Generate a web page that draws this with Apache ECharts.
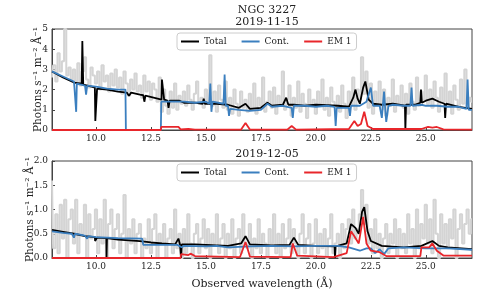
<!DOCTYPE html>
<html><head><meta charset="utf-8">
<script src="https://cdn.jsdelivr.net/npm/echarts@6/dist/echarts.min.js"></script>
<style>html,body{margin:0;padding:0;background:#fff}#c{width:479px;height:291px}</style>
</head><body><div id="c"></div>
<script>
// ---------- data ----------
const grayStart = 8.0, grayStep = 0.1;
const grayTop = [
2.6,3.2,2.4,3.8,2.9,3.4,5.0,2.7,3.1,2.5,
3.0,2.4,3.3,2.2,2.9,3.6,2.5,2.1,3.1,2.7,
2.3,2.9,2.0,3.2,2.4,2.7,1.9,2.8,2.2,3.0,
2.1,2.6,1.8,2.9,2.3,1.7,2.5,2.0,2.8,1.9,
2.2,1.6,2.7,1.9,2.4,1.5,2.3,2.0,1.4,2.6,
0.9,2.0,1.2,0.8,1.9,1.1,2.3,1.0,1.7,1.3,
1.9,1.2,2.2,1.5,1.0,1.8,2.4,1.3,1.6,1.1,
2.0,1.4,3.7,1.2,1.9,0.9,2.2,1.5,1.1,2.4,
1.0,1.6,0.8,2.0,1.3,0.7,1.9,1.1,1.5,0.9,
1.8,1.0,2.3,0.8,1.6,1.2,2.6,0.9,1.4,1.9,
1.1,2.1,0.8,1.7,1.3,2.9,1.0,1.5,2.2,0.7,
1.6,1.1,2.4,0.9,1.8,1.3,0.6,2.0,1.2,1.5,
0.8,1.9,1.3,2.5,1.0,1.6,0.7,2.1,1.4,1.1,
1.7,0.9,2.2,1.3,0.6,1.9,1.2,2.6,1.0,2.0,
1.5,3.6,1.8,2.9,1.1,2.3,0.8,1.9,1.3,2.4,
1.0,2.0,0.7,1.6,1.2,2.5,0.9,1.7,1.3,2.2,
1.1,1.8,0.8,2.3,1.4,1.0,2.6,1.2,1.9,1.5,
2.7,1.3,2.0,1.1,2.4,1.6,0.9,2.1,1.4,2.8,
1.2,1.9,0.8,2.2,1.5,1.0,2.5,1.3,3.0,1.1,
1.6,1.4];
const grayBot = [
1.6,0.2,0.9,0.1,1.1,0.4,1.2,0.0,0.8,1.0,
0.3,1.2,0.1,0.7,0.5,1.1,0.0,0.9,0.4,0.6,
1.0,0.1,0.8,0.3,1.2,0.0,0.7,1.0,0.2,0.6,
0.9,0.1,0.5,1.3,0.0,0.6,0.3,0.8,0.1,0.5,
0.7,0.0,0.4,0.2,0.8,0.1,0.6,0.9,0.0,0.5,
0.3,0.7,0.0,0.4,0.6,0.1,1.0,0.2,0.5,0.0,
0.6,0.1,0.9,0.3,0.0,0.5,0.7,0.1,0.4,0.8,
0.2,0.6,0.0,0.5,0.3,0.9,0.1,0.4,0.7,0.0,
0.5,0.2,0.8,0.0,0.4,0.6,0.1,0.9,0.3,0.2,
0.7,0.0,0.4,0.2,0.8,0.1,0.5,0.3,0.0,0.6,
0.3,0.9,0.1,0.5,0.0,0.7,0.2,0.4,0.8,0.1,
0.6,0.3,0.0,0.5,0.9,0.1,0.4,0.7,0.0,0.3,
0.8,0.1,0.5,0.2,0.6,0.0,0.4,0.9,0.1,0.3,
0.5,0.0,0.7,0.2,0.6,0.8,0.3,1.0,0.4,0.6,
0.9,1.4,0.7,1.1,0.3,0.6,0.1,0.8,0.2,0.5,
0.0,0.4,0.7,0.1,0.5,0.3,0.8,0.0,0.6,0.2,
0.5,0.1,0.9,0.3,0.6,0.0,1.0,0.2,0.7,0.4,
1.1,0.3,0.8,0.1,1.2,0.5,0.0,0.9,0.3,0.7,
0.2,0.8,0.4,1.0,0.0,0.6,0.9,0.3,0.7,1.0,
0.5,0.8];

const totalTop = [[8.0,2.9],[8.5,2.6],[9.0,2.35],[9.35,2.3],[9.38,4.4],[9.42,2.25],[9.8,2.15],[9.95,2.1],[9.97,0.45],[10.03,0.45],[10.05,2.05],[10.5,2.0],[11.0,1.9],[11.4,1.85],[11.5,1.7],[11.6,1.85],[12.0,1.75],[12.15,1.72],[12.2,1.4],[12.25,1.7],[12.8,1.55],[12.98,1.5],[13.0,2.5],[13.05,2.5],[13.1,1.5],[13.25,1.45],[13.3,1.1],[13.35,1.45],[13.8,1.45],[14.0,1.35],[14.5,1.35],[14.85,1.3],[14.9,1.55],[14.95,1.3],[15.5,1.3],[16.0,1.25],[16.5,1.1],[16.8,1.3],[17.0,1.05],[17.5,1.1],[17.8,1.35],[18.0,1.2],[18.5,1.25],[18.65,1.6],[18.75,1.25],[19.0,1.25],[19.5,1.2],[20.0,1.25],[21.0,1.2],[21.5,1.15],[21.7,1.6],[21.8,2.0],[21.9,1.55],[22.0,1.3],[22.15,2.1],[22.25,2.4],[22.4,1.5],[22.6,1.3],[23.0,1.25],[23.5,1.3],[24.05,1.2],[24.07,0.0],[24.1,1.25],[24.5,1.25],[24.75,1.35],[24.78,2.0],[24.82,1.35],[25.0,1.45],[25.3,1.55],[25.6,1.4],[25.85,1.3],[25.88,0.6],[25.92,1.3],[26.5,1.15],[27.1,1.05]];
const contTop = [[8.0,2.9],[8.5,2.65],[9.0,2.4],[9.08,2.35],[9.1,0.9],[9.13,2.3],[9.5,2.2],[9.55,1.75],[9.6,2.2],[10.0,2.15],[10.5,2.05],[11.0,2.0],[11.34,2.0],[11.36,0],[12.95,0],[12.97,1.4],[13.5,1.4],[14.0,1.4],[14.5,1.35],[15.0,1.4],[15.15,1.3],[15.2,2.3],[15.25,0.9],[15.3,1.4],[15.8,1.3],[15.85,2.75],[15.9,1.2],[16.0,1.2],[16.05,0.7],[16.1,1.05],[16.5,1.0],[17.0,0.95],[17.5,1.0],[17.8,1.3],[18.0,1.15],[18.5,1.2],[18.9,1.1],[18.95,0.6],[19.0,1.2],[19.5,1.2],[20.0,1.15],[20.5,1.2],[20.85,1.15],[20.9,0.2],[20.95,1.1],[21.5,1.1],[21.55,0.7],[21.6,1.2],[22.0,1.2],[22.3,1.4],[22.5,2.1],[22.6,1.2],[22.9,1.2],[23.0,0.6],[23.1,1.9],[23.15,1.1],[23.2,0.4],[23.3,1.2],[23.5,1.25],[24.0,1.2],[24.3,1.2],[24.35,2.1],[24.4,1.2],[24.8,1.25],[25.0,1.2],[25.5,1.2],[26.0,1.15],[26.5,1.15],[26.85,1.05],[26.9,2.5],[26.95,1.0],[27.1,1.0]];
const emTop = [[8.0,0],[12.95,0],[12.97,0.15],[13.75,0.15],[13.85,0.03],[14.2,0.05],[14.5,0.02],[16.6,0.02],[16.8,0.35],[17.0,0.02],[18.7,0.02],[18.9,0.2],[19.1,0.02],[21.5,0.05],[21.75,0.45],[21.9,0.2],[22.05,0.3],[22.2,0.9],[22.35,0.2],[22.6,0.05],[24.8,0.05],[25.1,0.15],[25.3,0.12],[25.5,0.15],[25.8,0.03],[27.1,0.02]];

const totalBot = [[8.0,0.58],[8.5,0.54],[9.0,0.5],[9.5,0.45],[9.95,0.43],[9.96,0.35],[10.04,0.35],[10.05,0.42],[10.47,0.41],[10.48,0],[10.5,0.41],[11.0,0.38],[12.0,0.35],[12.5,0.32],[13.0,0.3],[13.6,0.28],[13.75,0.4],[13.82,0.28],[13.86,0.28],[13.87,0],[13.9,0.28],[14.5,0.28],[15.0,0.27],[16.0,0.25],[16.6,0.3],[16.8,0.45],[17.0,0.28],[18.0,0.26],[18.8,0.27],[19.0,0.42],[19.2,0.27],[20.0,0.25],[20.85,0.24],[20.87,0],[20.9,0.24],[21.4,0.3],[21.6,0.7],[21.8,0.62],[21.95,0.5],[22.1,0.95],[22.2,1.05],[22.35,0.55],[22.5,0.35],[23.0,0.25],[24.0,0.22],[24.8,0.25],[25.3,0.35],[25.6,0.25],[26.0,0.22],[27.1,0.18]];
const contBot = [[8.0,0.55],[8.5,0.52],[8.9,0.5],[9.0,0.42],[9.05,0.5],[9.5,0.46],[9.6,0.4],[9.65,0.45],[10.0,0.43],[10.5,0.42],[11.0,0.41],[12.1,0.4],[12.15,0.27],[13.0,0.27],[13.7,0.27],[13.9,0.22],[14.0,0.25],[15.0,0.24],[15.5,0.25],[16.0,0.22],[16.5,0.23],[17.0,0.24],[18.0,0.25],[19.0,0.24],[20.0,0.25],[21.0,0.25],[21.5,0.22],[22.0,0.15],[22.3,0.2],[22.5,0.2],[22.7,0.1],[22.9,0.18],[23.1,0.08],[23.3,0.2],[24.0,0.22],[25.0,0.2],[26.0,0.2],[27.1,0.17]];
const emBot = [[8.0,0],[13.85,0],[13.87,0.08],[14.2,0.06],[14.3,0.09],[14.5,0.04],[16.55,0.02],[16.8,0.33],[17.0,0.03],[18.85,0.02],[18.95,0.3],[19.15,0.05],[20.8,0.02],[21.4,0.1],[21.6,0.55],[21.75,0.45],[21.95,0.3],[22.15,0.85],[22.3,0.3],[22.5,0.15],[22.9,0.12],[23.2,0.04],[24.75,0.04],[24.8,0.22],[25.15,0.22],[25.3,0.3],[25.5,0.15],[25.8,0.05],[26.5,0.05],[27.1,0.05]];

const xTicks = [10, 12.5, 15, 17.5, 20, 22.5, 25];
const yTicksTop = [0, 1, 2, 3, 4, 5];
const yTicksBot = [0, 0.5, 1.0, 1.5, 2.0];
const titles = ['NGC 3227', '2019-11-15', '2019-12-05'];
const yName = 'Photons s\u207B\u00B9 m\u207B\u00B2 \u00C5\u207B\u00B9';
const xName = 'Observed wavelength (\u00C5)';

// ---------- chart ----------
const F = 'DejaVu Serif';
const toPairs = (arr) => arr.map((v, i) => [grayStart + i * grayStep, v]);
const chart = echarts.init(document.getElementById('c'), null, {renderer: 'canvas'});
const axisCol = '#444';
function xAx(gi, showName) {
  return {
    type: 'value', gridIndex: gi, min: 8, max: 27.1,
    axisLine: {show: true, lineStyle: {color: axisCol, width: 1}},
    axisTick: {show: true, inside: true, length: 3, customValues: xTicks, lineStyle: {color: axisCol}},
    minorTick: {show: false},
    axisLabel: {customValues: xTicks, fontFamily: F, fontSize: 9, color: '#222', margin: 4,
      formatter: v => v.toFixed(1)},
    splitLine: {show: false},
    name: showName ? xName : '', nameLocation: 'middle', nameGap: 21, nameMoveOverlap: false,
    nameTextStyle: {fontFamily: F, fontSize: 11, color: '#222'}
  };
}
function yAx(gi, max, ticks, fmt, gap) {
  return {
    type: 'value', gridIndex: gi, min: 0, max: max,
    axisLine: {show: true, lineStyle: {color: axisCol, width: 1}},
    axisTick: {show: true, inside: true, length: 3, customValues: ticks, lineStyle: {color: axisCol}},
    axisLabel: {customValues: ticks, fontFamily: F, fontSize: 9, color: '#222', margin: 4, formatter: fmt},
    splitLine: {show: false},
    name: yName, nameLocation: 'middle', nameGap: gap, nameRotate: 90, nameMoveOverlap: false,
    nameTextStyle: {fontFamily: F, fontSize: 10.5, color: '#222'}
  };
}
const legendBase = {
  data: ['Total', 'Cont.', 'EM 1'], icon: 'rect', itemWidth: 18, itemHeight: 2, itemGap: 15,
  textStyle: {fontFamily: F, fontSize: 9, color: '#222'},
  borderColor: '#ccc', borderWidth: 1, borderRadius: 3, padding: [4, 5, 4, 4],
  backgroundColor: '#fff', selectedMode: false
};
function line(name, data, color, xi, w, z) {
  return {name: name, type: 'line', data: data, xAxisIndex: xi, yAxisIndex: xi,
    showSymbol: false, symbol: 'none', silent: true, animation: false, z: z,
    lineStyle: {color: color, width: w}, itemStyle: {color: color}};
}
function gray(data, xi) {
  return {type: 'line', step: 'middle', data: toPairs(data), xAxisIndex: xi, yAxisIndex: xi,
    showSymbol: false, symbol: 'none', silent: true, animation: false, z: 1,
    lineStyle: {color: '#d4d4d4', width: 2}};
}
const blue = '#3b7fbf', red = '#e8262b';
chart.setOption({
  animation: false,
  title: [
    {text: titles[0], left: 262, top: 0, textAlign: 'center', textStyle: {fontFamily: F, fontSize: 11, fontWeight: 'normal', color: '#222'}},
    {text: titles[1], left: 262, top: 12, textAlign: 'center', textStyle: {fontFamily: F, fontSize: 11, fontWeight: 'normal', color: '#222'}},
    {text: titles[2], left: 262, top: 144, textAlign: 'center', textStyle: {fontFamily: F, fontSize: 11, fontWeight: 'normal', color: '#222'}}
  ],
  grid: [
    {left: 52, right: 7, top: 29, height: 101, show: true, borderColor: axisCol, borderWidth: 1, backgroundColor: 'transparent'},
    {left: 52, right: 7, top: 161, height: 101, show: true, borderColor: axisCol, borderWidth: 1, backgroundColor: 'transparent'}
  ],
  legend: [
    Object.assign({}, legendBase, {left: 177, top: 33}),
    Object.assign({}, legendBase, {left: 177, top: 164})
  ],
  xAxis: [xAx(0, false), xAx(1, true)],
  yAxis: [yAx(0, 5, yTicksTop, v => String(v), 8), yAx(1, 2, yTicksBot, v => v.toFixed(1), 16)],
  series: [
    gray(grayTop, 0),
    line('Total', totalTop, '#000', 0, 1.8, 2),
    line('Cont.', contTop, blue, 0, 1.8, 3),
    line('EM 1', emTop, red, 0, 1.8, 4),
    gray(grayBot, 1),
    line('Total', totalBot, '#000', 1, 1.8, 2),
    line('Cont.', contBot, blue, 1, 1.8, 3),
    line('EM 1', emBot, red, 1, 1.8, 4)
  ]
});
</script></body></html>
